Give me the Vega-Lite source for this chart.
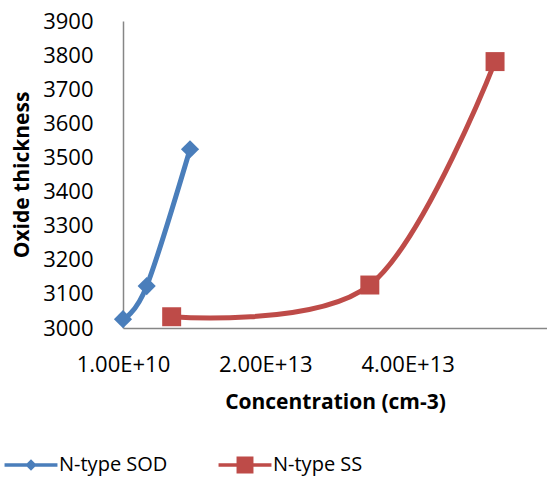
{
  "$schema": "https://vega.github.io/schema/vega-lite/v6.json",
  "width": 424,
  "height": 307,
  "autosize": {"type": "none"},
  "padding": {"left": 123, "top": 21, "right": 0, "bottom": 155},
  "background": "white",
  "data": {
    "values": [
      {"series": "N-type SOD", "concentration": 1e10, "thickness": 3026},
      {"series": "N-type SOD", "concentration": 3.34e12, "thickness": 3123},
      {"series": "N-type SOD", "concentration": 9.43e12, "thickness": 3524},
      {"series": "N-type SS", "concentration": 6.85e12, "thickness": 3033},
      {"series": "N-type SS", "concentration": 3.47e13, "thickness": 3126},
      {"series": "N-type SS", "concentration": 5.23e13, "thickness": 3781}
    ]
  },
  "encoding": {
    "x": {
      "field": "concentration",
      "type": "quantitative",
      "scale": {"domain": [1e10, 5.96e13], "nice": false, "zero": false},
      "axis": {
        "title": "Concentration (cm-3)",
        "values": [1e10, 2.001e13, 4.001e13],
        "labelExpr": "upper(format(datum.value, '.2e'))",
        "labelFlush": false,
        "labelOverlap": false,
        "labelPadding": 26,
        "titlePadding": 16
      }
    },
    "y": {
      "field": "thickness",
      "type": "quantitative",
      "scale": {"domain": [3000, 3900], "nice": false, "zero": false},
      "axis": {
        "title": "Oxide thickness",
        "values": [3000, 3100, 3200, 3300, 3400, 3500, 3600, 3700, 3800, 3900],
        "format": "d",
        "labelFlush": false,
        "labelOverlap": false,
        "labelPadding": 30,
        "titlePadding": 10
      }
    },
    "color": {
      "field": "series",
      "type": "nominal",
      "scale": {"domain": ["N-type SOD", "N-type SS"], "range": ["#4A7EBB", "#BE4B48"]},
      "legend": {
        "orient": "none",
        "legendX": -102,
        "legendY": 434,
        "direction": "horizontal",
        "title": null,
        "padding": 0,
        "symbolSize": 112,
        "labelOffset": 18,
        "columnPadding": 50,
        "labelFont": "Open Sans",
        "labelFontSize": 20,
        "labelColor": "#000000",
        "encode": {
          "symbols": {
            "update": {
              "shape": {"signal": "datum.value === 'N-type SOD' ? 'M-5,-0.35H-0.75L0,-1.1L0.75,-0.35H5V0.35H0.75L0,1.1L-0.75,0.35H-5Z' : 'M-5,-0.35H-1.6V-1.6H1.6V-0.35H5V0.35H1.6V1.6H-1.6V0.35H-5Z'"},
              "fill": {"scale": "color", "field": "value"},
              "strokeWidth": {"value": 0},
              "opacity": {"value": 1}
            }
          }
        }
      }
    }
  },
  "layer": [
    {
      "mark": {"type": "line", "interpolate": "cardinal", "strokeWidth": 5}
    },
    {
      "transform": [{"filter": "datum.series === 'N-type SOD'"}],
      "mark": {"type": "point", "filled": true, "opacity": 1, "size": 330, "shape": "diamond"}
    },
    {
      "transform": [{"filter": "datum.series === 'N-type SS'"}],
      "mark": {"type": "point", "filled": true, "opacity": 1, "size": 360, "shape": "square"}
    }
  ],
  "config": {
    "view": {"stroke": null},
    "axis": {
      "grid": false,
      "ticks": false,
      "tickSize": 0,
      "domainColor": "#868686",
      "domainWidth": 1.5,
      "labelFont": "Open Sans",
      "labelFontSize": 22,
      "labelColor": "#000000",
      "titleFont": "Open Sans",
      "titleFontSize": 21,
      "titleFontWeight": "bold",
      "titleColor": "#000000"
    }
  }
}
